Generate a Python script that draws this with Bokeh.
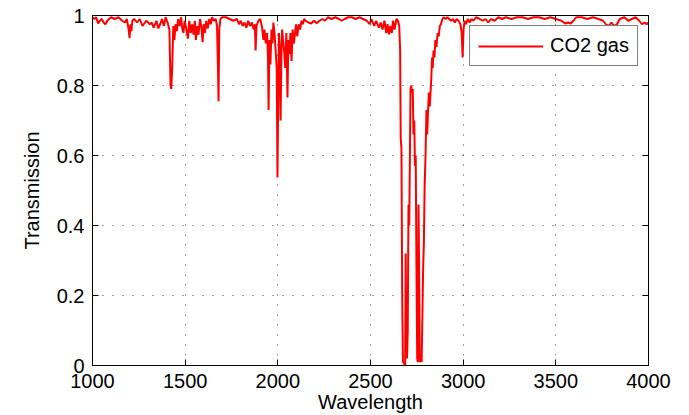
from bokeh.plotting import figure
from bokeh.models import Range1d, FixedTicker, LinearAxis, CustomJSTickFormatter
from bokeh.embed import file_html
from bokeh.resources import INLINE

# ---- data ----
wavelength = [
    1000, 1010, 1020, 1030, 1040, 1050, 1060, 1070, 1080, 1090, 1100, 1120, 1140, 1160, 1175, 1185,
    1195, 1200, 1205, 1210, 1215, 1225, 1240, 1255, 1270, 1290, 1310, 1320, 1330, 1345, 1355, 1365,
    1375, 1385, 1395, 1405, 1415, 1421, 1425, 1430, 1436, 1442, 1448, 1455, 1462, 1470, 1478, 1485,
    1491, 1497, 1505, 1515, 1522, 1530, 1538, 1545, 1552, 1558, 1565, 1572, 1580, 1588, 1594, 1600,
    1606, 1614, 1622, 1630, 1638, 1645, 1655, 1665, 1672, 1677, 1680, 1684, 1690, 1700, 1720, 1740,
    1760, 1780, 1790, 1800, 1810, 1820, 1830, 1840, 1850, 1860, 1870, 1876, 1880, 1885, 1895, 1905,
    1915, 1922, 1928, 1935, 1942, 1947, 1950, 1955, 1960, 1966, 1971, 1976, 1982, 1988, 1994, 1998,
    2002, 2006, 2010, 2015, 2019, 2023, 2028, 2034, 2040, 2046, 2052, 2057, 2062, 2068, 2074, 2080,
    2086, 2092, 2098, 2105, 2112, 2120, 2128, 2135, 2142, 2150, 2165, 2180, 2195, 2210, 2225, 2240,
    2255, 2270, 2290, 2310, 2330, 2345, 2360, 2380, 2400, 2420, 2440, 2460, 2480, 2495, 2505, 2520,
    2530, 2545, 2555, 2565, 2575, 2585, 2592, 2600, 2607, 2615, 2622, 2630, 2640, 2648, 2655, 2660,
    2663, 2667, 2671, 2675, 2682, 2687, 2690, 2693, 2697, 2701, 2705, 2709, 2713, 2716, 2720, 2724,
    2728, 2732, 2736, 2740, 2744, 2748, 2752, 2756, 2759, 2762, 2766, 2771, 2776, 2780, 2784, 2788,
    2792, 2797, 2802, 2806, 2810, 2815, 2820, 2824, 2828, 2832, 2836, 2840, 2845, 2850, 2856, 2862,
    2868, 2874, 2880, 2888, 2895, 2905, 2915, 2925, 2935, 2945, 2955, 2965, 2975, 2985, 2992, 2997,
    3002, 3008, 3015, 3025, 3035, 3045, 3055, 3070, 3090, 3105, 3120, 3135, 3150, 3170, 3190, 3210,
    3230, 3260, 3290, 3320, 3350, 3380, 3410, 3440, 3470, 3500, 3530, 3550, 3565, 3580, 3595, 3610,
    3640, 3670, 3700, 3730, 3755, 3770, 3785, 3800, 3815, 3830, 3845, 3870, 3890, 3910, 3930, 3950,
    3965, 3980, 3990, 4000,
]
transmission = [
    0.995, 0.990, 0.995, 0.977, 0.985, 0.990, 0.980, 0.975, 0.985, 0.990, 0.995, 0.990, 0.995, 0.985, 0.980, 0.990,
    0.960, 0.935, 0.975, 0.955, 0.985, 0.990, 0.980, 0.990, 0.970, 0.985, 0.975, 0.980, 0.965, 0.985, 0.963, 0.975,
    0.990, 0.970, 0.995, 0.980, 0.960, 0.800, 0.790, 0.850, 0.970, 0.930, 0.975, 0.955, 0.990, 0.970, 0.995, 0.960,
    0.950, 0.985, 0.965, 0.934, 0.985, 0.950, 0.975, 0.945, 0.985, 0.930, 0.970, 0.945, 0.990, 0.965, 0.924, 0.975,
    0.950, 0.985, 0.963, 0.990, 0.975, 0.995, 0.985, 0.990, 0.970, 0.850, 0.755, 0.960, 0.990, 0.995, 0.995, 0.990,
    0.985, 0.990, 0.975, 0.985, 0.970, 0.980, 0.965, 0.985, 0.970, 0.980, 0.960, 0.975, 0.900, 0.970, 0.985, 0.990,
    0.966, 0.930, 0.960, 0.920, 0.950, 0.880, 0.730, 0.930, 0.860, 0.960, 0.920, 0.980, 0.950, 0.900, 0.850, 0.537,
    0.750, 0.950, 0.910, 0.700, 0.880, 0.960, 0.930, 0.900, 0.850, 0.950, 0.766, 0.930, 0.890, 0.950, 0.870, 0.960,
    0.920, 0.945, 0.975, 0.940, 0.975, 0.960, 0.985, 0.975, 0.990, 0.985, 0.980, 0.977, 0.985, 0.978, 0.985, 0.990,
    0.985, 0.995, 0.990, 0.995, 0.990, 0.985, 0.990, 0.995, 0.995, 0.990, 0.995, 0.990, 0.985, 0.975, 0.990, 0.970,
    0.985, 0.965, 0.980, 0.960, 0.985, 0.950, 0.975, 0.946, 0.970, 0.950, 0.985, 0.960, 0.990, 0.985, 0.970, 0.900,
    0.650, 0.620, 0.200, 0.010, 0.005, 0.000, 0.320, 0.050, 0.020, 0.100, 0.460, 0.400, 0.620, 0.790, 0.800, 0.780,
    0.790, 0.660, 0.700, 0.570, 0.600, 0.280, 0.020, 0.010, 0.460, 0.300, 0.010, 0.020, 0.010, 0.140, 0.280, 0.350,
    0.510, 0.600, 0.730, 0.660, 0.720, 0.780, 0.740, 0.780, 0.820, 0.880, 0.850, 0.900, 0.880, 0.930, 0.910, 0.950,
    0.940, 0.970, 0.975, 0.990, 0.995, 0.990, 0.995, 0.990, 0.985, 0.990, 0.980, 0.990, 0.985, 0.975, 0.950, 0.880,
    0.960, 0.985, 0.975, 0.990, 0.980, 0.990, 0.985, 0.995, 0.990, 0.985, 0.990, 0.980, 0.990, 0.985, 0.995, 0.990,
    0.995, 0.990, 0.995, 0.995, 0.990, 0.995, 0.995, 0.990, 0.995, 0.990, 0.985, 0.977, 0.980, 0.977, 0.985, 0.995,
    0.995, 0.990, 0.995, 0.990, 0.985, 0.975, 0.970, 0.980, 0.970, 0.975, 0.990, 0.995, 0.985, 0.990, 0.995, 0.985,
    0.975, 0.980, 0.975, 0.980,
]
x_ticks = [1000, 1500, 2000, 2500, 3000, 3500, 4000]
y_ticks = [0, 0.2, 0.4, 0.6, 0.8, 1]
series_name = "CO2 gas"
x_title = "Wavelength"
y_title = "Transmission"

FONT = "Liberation Sans"

p = figure(width=689, height=415, output_backend="svg", toolbar_location=None,
           x_range=Range1d(1000, 4000), y_range=Range1d(0, 1),
           min_border_left=92, min_border_right=41, min_border_top=15, min_border_bottom=50)
p.background_fill_color = "white"
p.border_fill_color = "white"
p.outline_line_color = "black"
p.outline_line_width = 1
p.outline_line_alpha = 1

fmt_y = CustomJSTickFormatter(code="return (Math.round(tick*10)/10).toString();")
fmt_blank = CustomJSTickFormatter(code="return '';")

for ax in (p.xaxis[0], p.yaxis[0]):
    ax.axis_line_color = "black"
    ax.major_tick_in = 6
    ax.major_tick_out = 0
    ax.minor_tick_line_color = None
    ax.major_tick_line_color = "black"
    ax.major_label_text_font = FONT
    ax.major_label_text_font_size = "20px"
    ax.major_label_text_color = "black"
    ax.axis_label_text_font = FONT
    ax.axis_label_text_font_size = "20px"
    ax.axis_label_text_font_style = "normal"
    ax.axis_label_text_color = "black"

p.xaxis[0].ticker = FixedTicker(ticks=x_ticks)
p.xaxis[0].major_label_standoff = 8
p.xaxis[0].axis_label = x_title
p.xaxis[0].axis_label_standoff = 0
p.yaxis[0].ticker = FixedTicker(ticks=y_ticks)
p.yaxis[0].formatter = fmt_y
p.yaxis[0].major_label_standoff = 8
p.yaxis[0].axis_label = y_title
p.yaxis[0].axis_label_standoff = 11

# top and right axes: ticks only
for loc, ticks in (("above", x_ticks), ("right", y_ticks)):
    ax = LinearAxis(ticker=FixedTicker(ticks=ticks), formatter=fmt_blank)
    ax.major_label_text_font_size = "1px"
    ax.major_label_standoff = 0
    ax.major_tick_in = 6
    ax.major_tick_out = 0
    ax.minor_tick_line_color = None
    ax.axis_line_color = "black"
    p.add_layout(ax, loc)

p.xgrid.ticker = FixedTicker(ticks=x_ticks)
p.ygrid.ticker = FixedTicker(ticks=y_ticks)
for g in (p.xgrid[0], p.ygrid[0]):
    g.grid_line_color = "#444444"
    g.grid_line_dash = "1 9"
    g.grid_line_width = 1

p.line(wavelength, transmission, color="#ff0000", line_width=2, legend_label=series_name)

leg = p.legend[0]
leg.location = "top_right"
leg.margin = 10
leg.padding = 8
leg.spacing = 0
leg.glyph_width = 65
leg.glyph_height = 22
leg.label_height = 22
leg.label_standoff = 7
leg.label_text_font = FONT
leg.label_text_font_size = "20px"
leg.label_text_color = "black"
leg.border_line_color = "black"
leg.border_line_width = 1
leg.background_fill_color = "white"
leg.background_fill_alpha = 1

open("out.html", "w").write(file_html(p, INLINE))
